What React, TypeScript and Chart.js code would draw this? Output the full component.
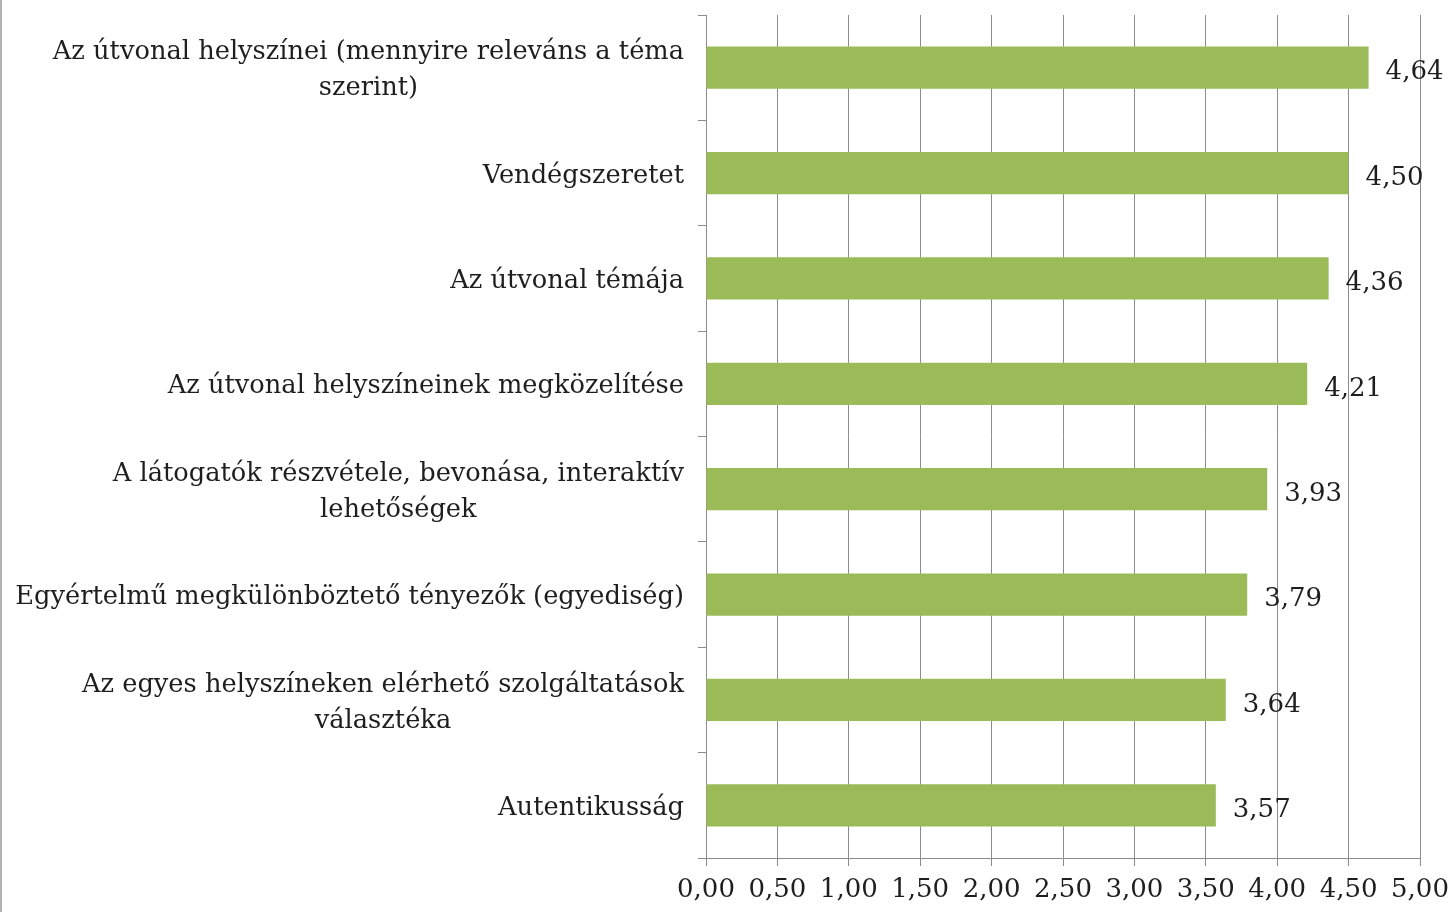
import React, { useEffect, useRef } from "react";
import { Chart, registerables } from "chart.js";

Chart.register(...registerables);

const categories: string[][] = [
  ["Az útvonal helyszínei (mennyire releváns a téma", "szerint)"],
  ["Vendégszeretet"],
  ["Az útvonal témája"],
  ["Az útvonal helyszíneinek megközelítése"],
  ["A látogatók részvétele, bevonása, interaktív", "lehetőségek"],
  ["Egyértelmű megkülönböztető tényezők (egyediség)"],
  ["Az egyes helyszíneken elérhető szolgáltatások", "választéka"],
  ["Autentikusság"],
];
const values: number[] = [4.64, 4.5, 4.36, 4.21, 3.93, 3.79, 3.64, 3.57];
const xMin = 0;
const xMax = 5;
const xStep = 0.5;

const FONT = "'DejaVu Serif', serif";
const TEXT = "#1e1e1e";
const GRID = "#8c8c8c";

const fmt = (v: number) => v.toFixed(2).replace(".", ",");

const customPlugin = {
  id: "customDraw",
  beforeDraw(chart: any) {
    const ctx = chart.ctx;
    ctx.save();
    ctx.fillStyle = "#ffffff";
    ctx.fillRect(0, 0, chart.width, chart.height);
    ctx.fillStyle = "#b4b4b4";
    ctx.fillRect(0, 0, 2, chart.height);
    ctx.restore();
  },
  afterDatasetsDraw(chart: any) {
    const ctx = chart.ctx;
    const yScale = chart.scales.y;
    const xScale = chart.scales.x;
    ctx.save();
    ctx.fillStyle = TEXT;
    ctx.textBaseline = "middle";
    ctx.font = `25.7px ${FONT}`;
    const right = chart.chartArea.left - 22;
    const lineH = 36;
    categories.forEach((lines, i) => {
      const cy = yScale.getPixelForValue(i) + 3;
      const widths = lines.map((l) => ctx.measureText(l).width);
      const bw = Math.max(...widths);
      const cx = right - bw / 2;
      ctx.textAlign = "center";
      lines.forEach((l, j) => {
        const y = cy + (j - (lines.length - 1) / 2) * lineH;
        ctx.fillText(l, cx, y);
      });
    });
    ctx.font = `26px ${FONT}`;
    ctx.textAlign = "left";
    const meta = chart.getDatasetMeta(0);
    meta.data.forEach((bar: any, i: number) => {
      const x = xScale.getPixelForValue(values[i]) + 17;
      ctx.fillText(fmt(values[i]), x, bar.y + 5);
    });
    ctx.restore();
  },
};

export default function App() {
  const ref = useRef<HTMLCanvasElement | null>(null);
  useEffect(() => {
    document.body.style.margin = "0";
    const chart = new Chart(ref.current as HTMLCanvasElement, {
      type: "bar",
      data: {
        labels: categories.map((c) => c.join(" ")),
        datasets: [
          {
            data: values,
            backgroundColor: "#9bbb59",
            borderWidth: 0,
            barPercentage: 0.4,
            categoryPercentage: 1,
          },
        ],
      },
      options: {
        indexAxis: "y",
        animation: false,
        responsive: false,
        maintainAspectRatio: false,
        layout: { padding: { top: 15, right: 32, left: 0, bottom: 0 } },
        plugins: { legend: { display: false }, tooltip: { enabled: false } },
        scales: {
          x: {
            min: xMin,
            max: xMax,
            ticks: {
              stepSize: xStep,
              callback: (v: any) => fmt(Number(v)),
              font: { family: FONT, size: 26 },
              color: TEXT,
              padding: 9,
              maxRotation: 0,
            },
            grid: {
              color: GRID,
              lineWidth: 1,
              drawTicks: true,
              tickLength: 8,
              tickColor: GRID,
            },
            border: { color: GRID, width: 1 },
            afterFit: (s: any) => {
              s.height = 54;
              s.paddingLeft = 0;
              s.paddingRight = 0;
            },
          },
          y: {
            ticks: { display: false },
            grid: {
              drawOnChartArea: false,
              drawTicks: true,
              tickLength: 8,
              tickColor: GRID,
              offset: true,
            },
            border: { color: GRID, width: 1 },
            afterFit: (s: any) => {
              s.width = 706;
            },
          },
        },
      },
      plugins: [customPlugin],
    });
    return () => chart.destroy();
  }, []);
  return (
    <div style={{ width: 1452, height: 912 }}>
      <canvas ref={ref} width={1452} height={912} style={{ display: "block" }} />
    </div>
  );
}
